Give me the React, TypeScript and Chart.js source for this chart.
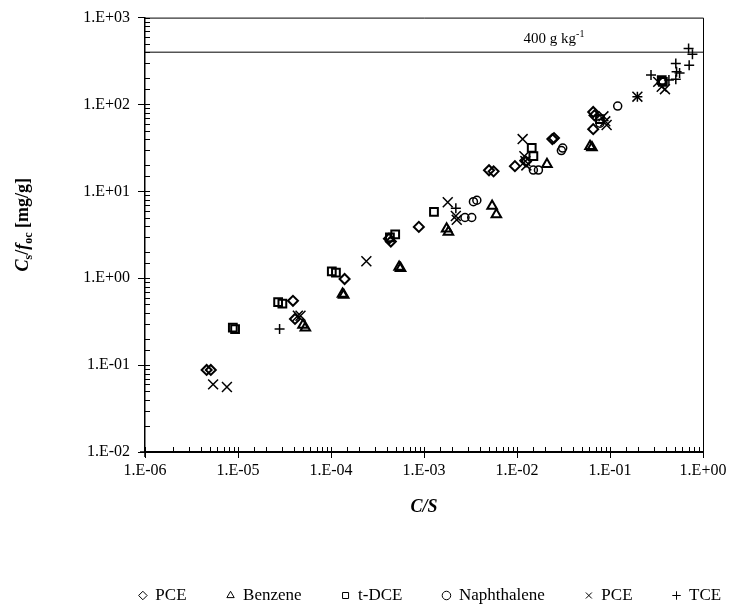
import React, { useEffect, useRef } from "react";
import { Chart, registerables } from "chart.js";
Chart.register(...registerables);

const FONT = "'Liberation Serif', 'Times New Roman', serif";

// ---- data (C/S, Cs/foc [mg/g]) ----
const pceDiamondX = [4.6e-6, 5.1e-6, 3.9e-5, 4.1e-5, 1.4e-4, 4.4e-4, 4.2e-4, 8.8e-4, 5.0e-3, 5.6e-3, 9.5e-3, 1.25e-2, 2.4e-2, 2.5e-2, 6.6e-2, 6.8e-2, 6.6e-2];
const pceDiamondY = [0.088, 0.088, 0.55, 0.34, 0.98, 2.65, 2.85, 3.9, 17.5, 17, 19.5, 22, 40, 41, 82, 75, 52];

const benzeneX = [5.0e-5, 5.3e-5, 1.33e-4, 1.37e-4, 5.4e-4, 5.6e-4, 1.75e-3, 1.83e-3, 5.4e-3, 6.0e-3, 2.1e-2, 6.1e-2, 6.4e-2];
const benzeneY = [0.29, 0.27, 0.66, 0.64, 1.35, 1.3, 3.7, 3.4, 6.8, 5.4, 20.5, 33, 32];

const tdceX = [8.8e-6, 9.3e-6, 2.7e-5, 3.0e-5, 1.02e-4, 1.13e-4, 4.3e-4, 4.9e-4, 1.28e-3, 1.44e-2, 1.5e-2, 7.8e-2, 0.36, 0.37];
const tdceY = [0.27, 0.26, 0.53, 0.51, 1.2, 1.16, 2.95, 3.2, 5.8, 31.7, 25.4, 68, 190, 182];

const naphX = [2.76e-3, 3.26e-3, 3.4e-3, 3.7e-3, 1.5e-2, 1.7e-2, 3.0e-2, 3.1e-2, 7.8e-2, 0.121];
const naphY = [5.0, 5.0, 7.6, 7.9, 17.6, 17.6, 29.5, 31.5, 61, 96];

const pceCrossX = [5.4e-6, 7.6e-6, 4.4e-5, 4.7e-5, 2.4e-4, 1.8e-3, 2.2e-3, 2.25e-3, 1.15e-2, 1.2e-2, 1.23e-2, 1.26e-2, 8.5e-2, 8.9e-2, 9.2e-2, 0.197, 0.33, 0.36, 0.39];
const pceCrossY = [0.06, 0.056, 0.37, 0.37, 1.57, 7.5, 5.2, 4.7, 40, 25.4, 22.3, 19.9, 73, 64, 58, 123, 182, 160, 150];

const tceX = [1e-6, 2.8e-5, 2.2e-3, 0.197, 0.276, 0.43, 0.51, 0.52, 0.56, 0.51, 0.71, 0.70, 0.77];
const tceY = [0.01, 0.26, 6.4, 123, 218, 191, 195, 238, 231, 296, 283, 440, 378];

const capX = [1e-6, 1];
const capY = [400, 400];
const capLabelX = 0.025;

const xMin = 1e-6, xMax = 1;
const yMin = 1e-2, yMax = 1e3;

const seriesNames = ["PCE", "Benzene", "t-DCE", "Naphthalene", "PCE", "TCE"];

const zip = (xs: number[], ys: number[]) => xs.map((x, i) => ({ x, y: ys[i] }));
const isPow10 = (v: number) => Math.abs(Math.log10(v) - Math.round(Math.log10(v))) < 1e-6;
const fmt = (v: number) => {
  const e = Math.round(Math.log10(v));
  return `1.E${e < 0 ? "-" : "+"}${String(Math.abs(e)).padStart(2, "0")}`;
};

const decor = {
  id: "decor",
  afterLayout(chart: any) {
    const lg = chart.legend;
    if (!lg) return;
    const a = chart.chartArea;
    const w = lg.right - lg.left;
    const c = (a.left + a.right) / 2 + 6;
    lg.left = c - w / 2;
    lg.right = c + w / 2;
  },
  afterDraw(chart: any) {
    const { ctx, chartArea: a, scales } = chart;
    const xs = scales.x, ys = scales.y;
    ctx.save();
    ctx.strokeStyle = "#000";
    ctx.lineWidth = 1;
    ctx.beginPath();
    ctx.moveTo(a.left, a.top + 0.5);
    ctx.lineTo(a.right + 0.5, a.top + 0.5);
    ctx.lineTo(a.right + 0.5, a.bottom);
    ctx.stroke();
    // inner ticks
    ctx.beginPath();
    xs.ticks.forEach((t: any) => {
      const px = Math.round(xs.getPixelForValue(t.value)) + 0.5;
      ctx.moveTo(px, a.bottom);
      ctx.lineTo(px, a.bottom - 5);
    });
    ys.ticks.forEach((t: any) => {
      const py = Math.round(ys.getPixelForValue(t.value)) + 0.5;
      ctx.moveTo(a.left, py);
      ctx.lineTo(a.left + 5, py);
    });
    ctx.stroke();

    // 400 g kg-1 label
    const cx = xs.getPixelForValue(capLabelX);
    const by = ys.getPixelForValue(capY[0]) - 9;
    ctx.fillStyle = "#000";
    ctx.textBaseline = "alphabetic";
    ctx.textAlign = "left";
    const f1 = `15px ${FONT}`, f2 = `10px ${FONT}`;
    ctx.font = f1;
    const w1 = ctx.measureText("400 g kg").width;
    ctx.font = f2;
    const w2 = ctx.measureText("-1").width;
    const sx = cx - (w1 + w2) / 2;
    ctx.font = f1;
    ctx.fillText("400 g kg", sx, by);
    ctx.font = f2;
    ctx.fillText("-1", sx + w1, by - 6);

    // y title
    const parts = [
      { t: "C", f: `italic bold 18px ${FONT}`, dy: 0 },
      { t: "s", f: `bold 12px ${FONT}`, dy: 4 },
      { t: "/", f: `bold 18px ${FONT}`, dy: 0 },
      { t: "f", f: `italic bold 18px ${FONT}`, dy: 0 },
      { t: "oc", f: `bold 12px ${FONT}`, dy: 4 },
      { t: " [mg/g]", f: `bold 18px ${FONT}`, dy: 0 },
    ];
    let total = 0;
    const widths = parts.map((p) => { ctx.font = p.f; const w = ctx.measureText(p.t).width; total += w; return w; });
    ctx.translate(22, (a.top + a.bottom) / 2 - 10);
    ctx.rotate(-Math.PI / 2);
    let x = -total / 2;
    parts.forEach((p, i) => {
      ctx.font = p.f;
      ctx.fillText(p.t, x, p.dy + 6);
      x += widths[i];
    });
    ctx.restore();
  },
};

export default function App() {
  const ref = useRef<HTMLCanvasElement | null>(null);
  useEffect(() => {
    if (!ref.current) return;
    const base = { showLine: false, borderColor: "#000", backgroundColor: "rgba(0,0,0,0)", pointBorderColor: "#000", pointBackgroundColor: "rgba(0,0,0,0)", clip: false as any };
    const chart = new Chart(ref.current, {
      type: "scatter",
      data: {
        datasets: [
          { ...base, label: seriesNames[0], data: zip(pceDiamondX, pceDiamondY), pointStyle: "rectRot", pointRadius: 5, pointBorderWidth: 2 },
          { ...base, label: seriesNames[1], data: zip(benzeneX, benzeneY), pointStyle: "triangle", pointRadius: 5.5, pointBorderWidth: 2 },
          { ...base, label: seriesNames[2], data: zip(tdceX, tdceY), pointStyle: "rect", pointRadius: 5.5, pointBorderWidth: 2 },
          { ...base, label: seriesNames[3], data: zip(naphX, naphY), pointStyle: "circle", pointRadius: 4, pointBorderWidth: 1.5 },
          { ...base, label: seriesNames[4], data: zip(pceCrossX, pceCrossY), pointStyle: "crossRot", pointRadius: 7, pointBorderWidth: 1.5 },
          { ...base, label: seriesNames[5], data: zip(tceX, tceY), pointStyle: "cross", pointRadius: 5, pointBorderWidth: 1.5 },
          { ...base, label: "cap", data: zip(capX, capY), showLine: true, borderWidth: 1, pointRadius: 0 },
        ],
      },
      options: {
        animation: false,
        responsive: false,
        events: [],
        layout: { padding: { left: 0, right: 36, top: 17, bottom: 0 } },
        plugins: {
          tooltip: { enabled: false },
          legend: {
            position: "bottom",
            labels: {
              usePointStyle: true,
              boxWidth: 8,
              boxHeight: 6,
              padding: 40,
              color: "#000",
              font: { family: FONT, size: 17 },
              generateLabels: (c: any) =>
                (Chart.defaults.plugins.legend.labels as any)
                  .generateLabels(c)
                  .filter((l: any) => l.datasetIndex < 6)
                  .map((l: any) => ({ ...l, lineWidth: 1 })),
            },
          },
        },
        scales: {
          x: {
            type: "logarithmic",
            min: xMin,
            max: xMax,
            border: { color: "#000", width: 2 },
            grid: {
              drawOnChartArea: false,
              tickLength: 6,
              tickColor: (c: any) => (c.tick && isPow10(c.tick.value) ? "#000" : "rgba(0,0,0,0)"),
            },
            ticks: {
              autoSkip: false,
              maxRotation: 0,
              color: "#000",
              padding: 3,
              font: { family: FONT, size: 16 },
              callback: (v: any) => (isPow10(Number(v)) ? fmt(Number(v)) : ""),
            },
            title: {
              display: true,
              text: "C/S",
              color: "#000",
              font: { family: FONT, size: 18, weight: "bold", style: "italic" },
              padding: { top: 0, bottom: 29 },
            },
            afterFit: (s: any) => { s.height = 95; },
          },
          y: {
            type: "logarithmic",
            min: yMin,
            max: yMax,
            border: { color: "#000", width: 1.5 },
            grid: {
              drawOnChartArea: false,
              tickLength: 7,
              tickColor: (c: any) => (c.tick && isPow10(c.tick.value) ? "#000" : "rgba(0,0,0,0)"),
            },
            ticks: {
              autoSkip: false,
              color: "#000",
              padding: 8,
              font: { family: FONT, size: 16 },
              callback: (v: any) => (isPow10(Number(v)) ? fmt(Number(v)) : ""),
            },
            afterFit: (s: any) => { s.width = 145; },
          },
        },
      },
      plugins: [decor],
    });
    return () => chart.destroy();
  }, []);
  return (
    <div style={{ position: "fixed", left: 0, top: 0, width: 739, height: 614, background: "#fff" }}>
      <canvas ref={ref} width={739} height={614} style={{ width: 739, height: 614, display: "block" }} />
    </div>
  );
}
